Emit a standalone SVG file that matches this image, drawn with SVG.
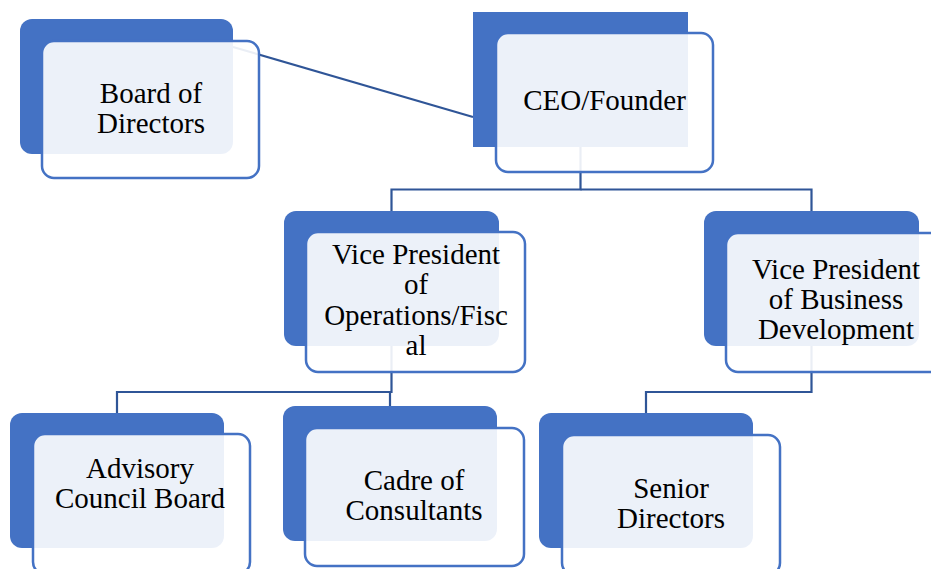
<svg xmlns="http://www.w3.org/2000/svg" width="931" height="569" viewBox="0 0 931 569">
  <style>
    .back { fill: #4472C4; }
    .front { fill: #FFFFFF; fill-opacity: 0.9; stroke: #4472C4; stroke-width: 2.5; }
    .link { fill: none; stroke: #2F5597; stroke-width: 2.2; }
    .label { font-family: 'Liberation Serif', 'DejaVu Serif', serif; font-size: 29px; fill: #000000; text-anchor: middle; }
  </style>
  <rect width="931" height="569" fill="#FFFFFF"/>

  <!-- connectors, drawn beneath the boxes -->
  <g id="connectors">
    <line class="link" x1="233" y1="47" x2="473" y2="117"/>
    <polyline class="link" points="580.5,147 580.5,189.5 391.5,189.5 391.5,211"/>
    <polyline class="link" points="580.5,189.5 811.5,189.5 811.5,211"/>
    <polyline class="link" points="391.5,346 391.5,392 117,392 117,413"/>
    <polyline class="link" points="391.5,392 390,392 390,407"/>
    <polyline class="link" points="811.5,346 811.5,392 646,392 646,413"/>
  </g>

  <g id="board">
    <rect class="back" x="20" y="19" width="213" height="135" rx="12"/>
    <rect class="front" x="42" y="41" width="217" height="137" rx="12"/>
    <text class="label" x="151" y="103">Board of</text>
    <text class="label" x="151" y="133">Directors</text>
  </g>

  <g id="ceo">
    <rect class="back" x="473" y="12" width="215" height="135"/>
    <rect class="front" x="496" y="33" width="217" height="139" rx="12"/>
    <text class="label" x="604.5" y="110">CEO/Founder</text>
  </g>

  <g id="vp-operations">
    <rect class="back" x="284" y="211" width="215" height="135" rx="12"/>
    <rect class="front" x="306" y="232" width="219" height="140" rx="12"/>
    <text class="label" x="416" y="264">Vice President</text>
    <text class="label" x="416" y="294">of</text>
    <text class="label" x="416" y="325">Operations/Fisc</text>
    <text class="label" x="416" y="355">al</text>
  </g>

  <g id="vp-business">
    <rect class="back" x="704" y="211" width="215" height="135" rx="12"/>
    <rect class="front" x="726" y="233" width="218" height="139" rx="12"/>
    <text class="label" x="836" y="279">Vice President</text>
    <text class="label" x="836" y="309">of Business</text>
    <text class="label" x="836" y="339">Development</text>
  </g>

  <g id="advisory">
    <rect class="back" x="10" y="413" width="214" height="135" rx="12"/>
    <rect class="front" x="33" y="434" width="217" height="140" rx="12"/>
    <text class="label" x="140" y="478">Advisory</text>
    <text class="label" x="140" y="508">Council Board</text>
  </g>

  <g id="cadre">
    <rect class="back" x="283" y="406" width="214" height="135" rx="12"/>
    <rect class="front" x="305" y="428" width="219" height="138" rx="12"/>
    <text class="label" x="414" y="490">Cadre of</text>
    <text class="label" x="414" y="520">Consultants</text>
  </g>

  <g id="senior">
    <rect class="back" x="539" y="413" width="214" height="135" rx="12"/>
    <rect class="front" x="562" y="435" width="218" height="140" rx="12"/>
    <text class="label" x="671" y="498">Senior</text>
    <text class="label" x="671" y="528">Directors</text>
  </g>
</svg>
